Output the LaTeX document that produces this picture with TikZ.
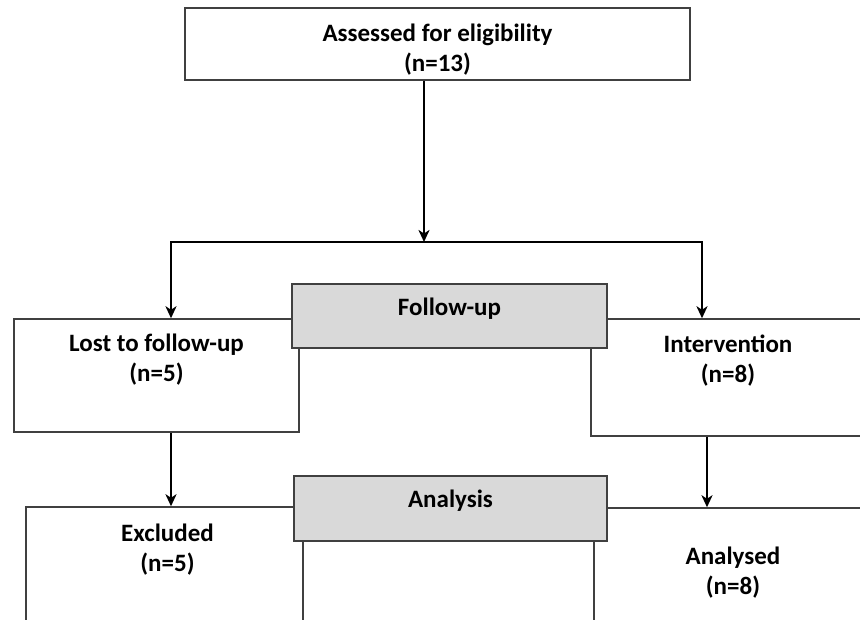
\documentclass[tikz,border=0pt]{standalone}
\usepackage{fontspec}
\setmainfont{Carlito}
\usetikzlibrary{positioning,arrows.meta}
\tikzset{
  box/.style={rectangle,draw=black!75,line width=1.5pt,fill=white,inner sep=0pt},
  stagebox/.style={box,fill=black!15},
  txt/.style={align=center,inner sep=0pt,font=\fontsize{25}{30}\selectfont\bfseries},
  arr/.style={-{Stealth[length=12pt,width=11pt,inset=3.5pt]},line width=2.8pt}
}

\begin{document}
\begin{tikzpicture}[x=1pt,y=-1pt]

    \useasboundingbox (0,0) rectangle (860,619);

    % boxes
    \node[box,minimum width=505pt,minimum height=72pt] (assess) % top
      at (437.5,44) {};
    \node[box,minimum width=285pt,minimum height=113pt] (lost)
      at (156.5,375.5) {};
    \node[box,minimum width=274pt,minimum height=117pt] (interv)
      at (728,377.5) {};
    \node[box,minimum width=277pt,minimum height=133pt] (excl)
      at (164.5,573.5) {};
    \node[box,minimum width=278pt,minimum height=142pt] (analysed)
      at (733,579) {};

    % grey stage boxes on top
    \node[stagebox,minimum width=315pt,minimum height=64pt] (fu)
      at (449.5,316) {};
    \node[stagebox,minimum width=313pt,minimum height=65pt] (an)
      at (450.5,508.5) {};

    % labels
    \node[txt,below=17pt of assess.north]   (assesstxt)   {Assessed for eligibility\\(n=13)};
    \node[txt,below=16pt of lost.north]     (losttxt)     {Lost to follow-up\\(n=5)};
    \node[txt,below=16pt of interv.north]   (intervtxt)   {Intervention\\(n=8)};
    \node[txt,below=17pt of excl.north,xshift=3pt] (excltxt) {Excluded\\(n=5)};
    \node[txt,below=39pt of analysed.north] (analysedtxt) {Analysed\\(n=8)};
    \node[txt,below=15pt of fu.north]       (futxt)       {Follow-up};
    \node[txt,below=15pt of an.north]       (antxt)       {Analysis};

    % arrows
    \coordinate (split) at (424,242);
    \coordinate (bl) at (171,242);
    \coordinate (br) at (702,242);
    \draw[arr] % down to the split
      (assess.south -| split) -- (split);
    \draw[arr,{Stealth[length=12pt,width=11pt,inset=3.5pt]}-{Stealth[length=12pt,width=11pt,inset=3.5pt]}]
      (bl |- lost.north) -- (bl) -- (br) -- (br |- interv.north);
    \draw[arr]
      (bl |- lost.south) -- (bl |- excl.north);
    \draw[arr]
      ([xshift=5pt]br |- interv.south) -- ([xshift=5pt]br |- analysed.north);

\end{tikzpicture}
\end{document}
